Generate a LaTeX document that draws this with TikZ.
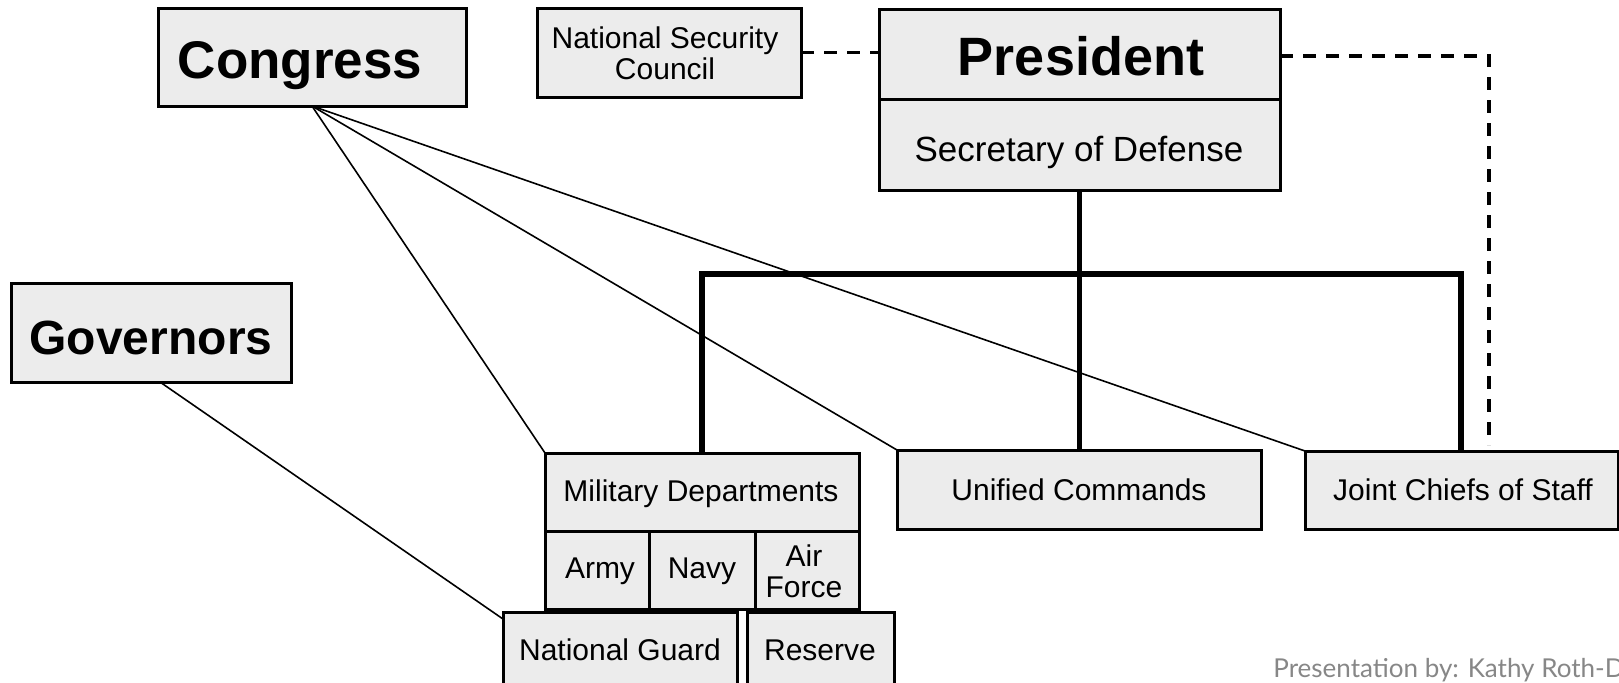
\documentclass[tikz,border=0pt]{standalone}
\usepackage{fontspec}
\setmainfont{Liberation Sans}
\newfontfamily\latofont{Lato}
\usetikzlibrary{calc}
\definecolor{boxfill}{RGB}{236,236,236}
\definecolor{wmgray}{RGB}{135,135,135}
\newcommand\mybox[5]{\node[box, minimum width={(#4-#2)*0.5pt}, minimum height={(#5-#3)*0.5pt}] (#1) at ({(#2+#4)/2},{(#3+#5)/2}) {};}
\tikzset{
  box/.style={draw=black, fill=boxfill, line width=1.5pt, rectangle, inner sep=0pt, outer sep=0pt},
  lbl/.style={inner sep=0pt, outer sep=0pt, anchor=base, font=\fontsize{15}{18}\selectfont},
  biglbl/.style={inner sep=0pt, outer sep=0pt, anchor=base},
  thickconn/.style={line width=2.6pt},
  thinconn/.style={line width=0.8pt},
  dashconn/.style={line width=1.6pt, dash pattern=on 6.5pt off 5pt},
}
\begin{document}
\begin{tikzpicture}[x=0.5pt, y=-0.5pt]
\useasboundingbox (0,0) rectangle (1619,682);
\fill[white] (0,0) rectangle (1619,682);
\clip (0,0) rectangle (1619,682);

% boxes
\mybox{congress}{158}{8}{466}{106}
\mybox{nsc}{537}{8}{801}{97}
\mybox{pres}{879}{9}{1280}{99}
\mybox{secdef}{879}{99}{1280}{190}
\mybox{gov}{11}{283}{291}{382}
\mybox{mil}{545}{453}{859}{531}
\mybox{army}{545}{531}{649}{609}
\mybox{navy}{649}{531}{755}{609}
\mybox{air}{755}{531}{859}{609}
\mybox{ng}{503}{612}{737}{720}
\mybox{res}{747}{612}{894}{720}
\mybox{uc}{897}{450}{1261}{529}
\mybox{jcs}{1305}{451}{1618}{529}

% helper coordinates
\coordinate (barR) at (1461,274);
\coordinate (dc) at (1489,56);
\coordinate (dcEnd) at (1489,445);

% solid thick connectors
\draw[thickconn] (secdef.south) -- (secdef.south |- uc.north);
\draw[thickconn] (mil.north) |- (barR) -- (barR |- jcs.north);

% dashed connectors
\draw[dashconn] (nsc.east) -- (nsc.east -| pres.west);
\draw[dashconn] (pres.east |- dc) -- (dc) -- (dcEnd);

% thin connectors
\draw[thinconn] (congress.south) -- (mil.north west);
\draw[thinconn] (congress.south) -- (uc.north west);
\draw[thinconn] (congress.south) -- (jcs.north west);
\draw[thinconn] ([xshift=4.5pt]gov.south) -- ([yshift=-3.5pt]ng.north west);

% texts
\node[biglbl, font=\fontsize{26.5}{31}\selectfont\bfseries] (congressT) at (300,78) {Congress};
\node[biglbl, font=\fontsize{24}{29}\selectfont\bfseries] (govT) at (151,354) {Governors};
\node[biglbl, font=\fontsize{27}{32}\selectfont\bfseries] (presT) at (1081,75) {President};
\node[biglbl, font=\fontsize{17.5}{21}\selectfont] (secdefT) at (1079,161) {Secretary of Defense};
\node[lbl] (nscT1) at (665,48.5) {National Security};
\node[lbl] (nscT2) at (665,79.5) {Council};
\node[lbl] (milT) at (701,501) {Military Departments};
\node[lbl] (armyT) at (600,578) {Army};
\node[lbl] (navyT) at (702,578) {Navy};
\node[lbl] (airT1) at (804,566) {Air};
\node[lbl] (airT2) at (804,597) {Force};
\node[lbl] (ngT) at (620,660) {National Guard};
\node[lbl] (resT) at (820,660) {Reserve};
\node[lbl] (ucT) at (1079,500) {Unified Commands};
\node[lbl] (jcsT) at (1463,500) {Joint Chiefs of Staff};
\node[inner sep=0pt, anchor=base west, text=wmgray, font=\latofont\fontsize{13}{16}\selectfont] (wm) at (1273,677) {Presentation by: Kathy Roth-D};
\end{tikzpicture}
\end{document}
